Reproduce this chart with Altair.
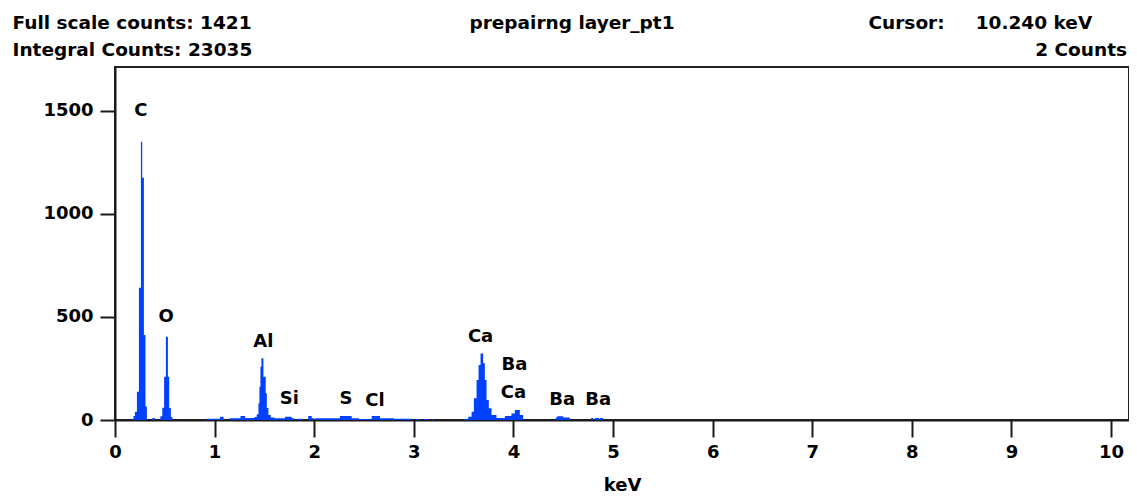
import altair as alt
import pandas as pd

# ---- spectrum: step edges (keV) and the counts held from that edge onward ----
edge_kev = [0.00, 0.185, 0.20, 0.22, 0.24, 0.26, 0.273, 0.29, 0.306, 0.32,
            0.375, 0.40,
            0.455, 0.475, 0.493, 0.511, 0.531, 0.544, 0.561, 0.575,
            0.92, 1.055, 1.09, 1.15, 1.26, 1.306,
            1.40, 1.423, 1.44, 1.45, 1.46, 1.47, 1.49, 1.513, 1.524, 1.54, 1.564,
            1.60, 1.707, 1.774, 1.80, 1.83, 1.88, 1.94, 1.975, 2.00, 2.01,
            2.258, 2.376, 2.45, 2.577, 2.66, 2.80, 2.98, 3.02, 3.06, 3.10, 3.14, 3.18, 3.20,
            3.50, 3.546, 3.58, 3.603, 3.63, 3.65, 3.67, 3.696, 3.713, 3.73, 3.753, 3.78, 3.83,
            3.914, 3.98, 4.014, 4.064, 4.097,
            4.425, 4.44, 4.50, 4.566,
            4.78, 4.80, 4.82, 4.86, 4.87, 4.90]
edge_counts = [0, 20, 40, 137, 641, 1349, 1175, 412, 65, 0,
               10, 0,
               18, 60, 210, 404, 210, 58, 15, 0,
               6, 16, 0, 8, 20, 10,
               15, 28, 81, 161, 258, 299, 210, 130, 58, 24, 12,
               8, 16, 8, 0, 6, 0, 20, 8, 0, 8,
               20, 8, 5, 20, 8, 6, 0, 5, 0, 5, 0, 5, 0,
               5, 16, 40, 105, 194, 267, 322, 275, 194, 97, 57, 24, 10,
               20, 32, 48, 24, 0,
               12, 18, 12, 0,
               10, 0, 10, 0, 10, 0]

# ---- element peak labels ----
element_names = ["C", "O", "Al", "Si", "S", "Cl", "Ca", "Ba", "Ca", "Ba", "Ba"]
element_kev = [0.26, 0.514, 1.49, 1.75, 2.32, 2.61, 3.67, 4.01, 4.00, 4.49, 4.85]
element_counts = [1497, 501, 380, 102, 102, 92, 404, 267, 133, 97, 97]

# ---- axes ----
x_ticks = [0, 1, 2, 3, 4, 5, 6, 7, 8, 9, 10]
y_ticks = [0, 500, 1000, 1500]
x_domain = [0, 10.18]
y_domain = [0, 1712]

# ---- header texts ----
header_left = ["Full scale counts: 1421", "Integral Counts: 23035"]
header_center = "prepairng layer_pt1"
header_cursor = ["Cursor:", "10.240 keV"]
header_counts = "2 Counts"

FONT = "DejaVu Sans"
INK = "#000000"
BLUE = "#0040ff"

spec = pd.DataFrame({"kev": edge_kev, "counts": edge_counts})
labels = pd.DataFrame({"kev": element_kev, "counts": element_counts, "name": element_names})

xscale = alt.Scale(domain=x_domain, nice=False, zero=False)
yscale = alt.Scale(domain=y_domain, nice=False)

area = alt.Chart(spec).mark_area(interpolate="step-after", color=BLUE, opacity=1).encode(
    x=alt.X("kev:Q", scale=xscale,
            axis=alt.Axis(values=x_ticks, title="keV", format="d", tickSize=17, tickWidth=2,
                          tickColor="#1a1a1a", domainColor="#1a1a1a", domainWidth=2,
                          labelFont=FONT, labelFontWeight="bold", labelFontSize=18, labelColor=INK,
                          labelPadding=6, titleFont=FONT, titleFontWeight="bold", titleFontSize=18,
                          titleColor=INK, titlePadding=15, grid=False, labelFlush=False)),
    y=alt.Y("counts:Q", scale=yscale,
            axis=alt.Axis(values=y_ticks, title=None, format="d", tickSize=15, tickWidth=2,
                          tickColor="#1a1a1a", domainColor="#1a1a1a", domainWidth=2,
                          labelFont=FONT, labelFontWeight="bold", labelFontSize=18, labelColor=INK,
                          labelPadding=7, grid=False, labelFlush=False)),
)

peak_text = alt.Chart(labels).mark_text(font=FONT, fontWeight="bold", fontSize=18, color=INK,
                                        align="center", baseline="middle").encode(
    x=alt.X("kev:Q", scale=xscale),
    y=alt.Y("counts:Q", scale=yscale),
    text="name:N",
)


def header(txt, x, y, align):
    return alt.Chart(pd.DataFrame({"t": [txt]})).mark_text(
        font=FONT, fontWeight="bold", fontSize=18.5, color=INK, align=align, baseline="alphabetic"
    ).encode(x=alt.value(x), y=alt.value(y), text="t:N")


layers = [
    area,
    peak_text,
    header(header_left[0], -102.5, -38, "left"),
    header(header_left[1], -102.5, -11, "left"),
    header(header_center, 457, -38, "center"),
    header(header_cursor[0], 753.5, -38, "left"),
    header(header_cursor[1], 860.7, -38, "left"),
    header(header_counts, 1012, -11, "right"),
]

chart = alt.layer(*layers).properties(
    width=1014, height=353,
    autosize=alt.AutoSizeParams(type="none"),
    padding={"left": 107, "top": 59, "right": 0, "bottom": 76},
).configure(background="white").configure_view(stroke="#222222", strokeWidth=2)

chart.save("out.html", embed_options={"renderer": "svg", "actions": False})
